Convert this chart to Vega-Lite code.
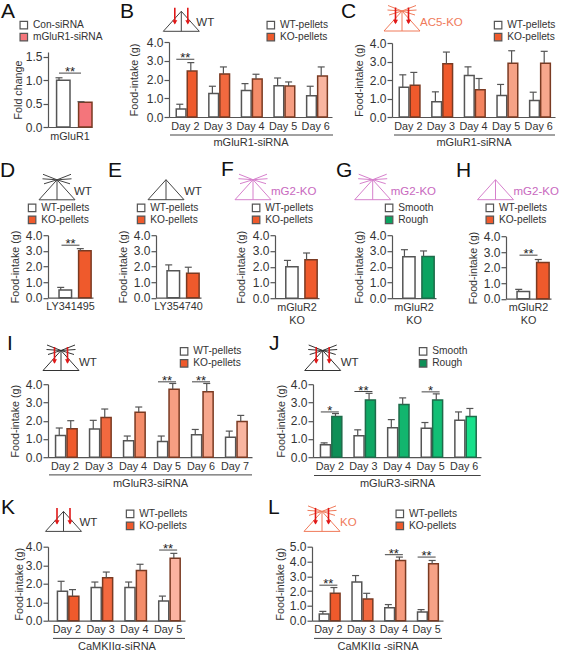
{"$schema":"https://vega.github.io/schema/vega-lite/v6.json","background":"white","padding":{"left":0,"top":0,"right":0,"bottom":0},
"config":{"font":"Liberation Sans","view":{"stroke":null},
"axis":{"grid":false,"domainColor":"#555","domainWidth":1.2,"tickColor":"#555","tickWidth":1.2,"labelColor":"#333","titleColor":"#333","titleFontWeight":"normal","labelFont":"Liberation Sans","titleFont":"Liberation Sans","labelOverlap":false,"labelFlush":false},
"axisX":{"ticks":false,"labelAngle":0,"labelPadding":3,"titlePadding":6,"labelFontSize":10.8,"titleFontSize":11,"labelLimit":0,"labelLineHeight":13},
"axisY":{"tickSize":5,"labelPadding":1,"labelFontSize":12,"titleFontSize":10.7},
"legend":{"title":null,"symbolType":"square","symbolSize":56,"symbolStrokeColor":"#555","symbolStrokeWidth":1.2,"labelFontSize":10.2,"labelColor":"#333","labelOffset":4,"rowPadding":-3.5,"padding":0},
"title":{"anchor":"start","frame":"group","offset":0,"baseline":"alphabetic","fontSize":21,"fontWeight":"normal","color":"#111"}},
"datasets":{"bars":[
{"p":"A","d":"mGluR1","s":"a","c":"Con-siRNA","v":1.0,"hi":1.05},{"p":"A","d":"mGluR1","s":"b","c":"mGluR1-siRNA","v":0.53,"hi":0.54,"sig":1.15,"star":"**"},
{"p":"B","d":"Day 2","s":"a","c":"WT-pellets","v":0.43,"hi":0.68},{"p":"B","d":"Day 2","s":"b","c":"KO-pellets","v":2.45,"hi":2.9,"sig":3.08,"star":"**"},
{"p":"B","d":"Day 3","s":"a","c":"WT-pellets","v":1.25,"hi":1.64},{"p":"B","d":"Day 3","s":"b","c":"k2","v":2.3,"hi":2.67},
{"p":"B","d":"Day 4","s":"a","c":"WT-pellets","v":1.42,"hi":1.78},{"p":"B","d":"Day 4","s":"b","c":"k3","v":2.03,"hi":2.28},
{"p":"B","d":"Day 5","s":"a","c":"WT-pellets","v":1.67,"hi":2.08},{"p":"B","d":"Day 5","s":"b","c":"k4","v":1.65,"hi":1.87},
{"p":"B","d":"Day 6","s":"a","c":"WT-pellets","v":1.14,"hi":1.64},{"p":"B","d":"Day 6","s":"b","c":"k6","v":2.19,"hi":2.67},
{"p":"C","d":"Day 2","s":"a","c":"WT-pellets","v":1.61,"hi":2.28},{"p":"C","d":"Day 2","s":"b","c":"KO-pellets","v":1.72,"hi":2.41},
{"p":"C","d":"Day 3","s":"a","c":"WT-pellets","v":0.83,"hi":1.36},{"p":"C","d":"Day 3","s":"b","c":"KO-pellets","v":2.88,"hi":3.51},
{"p":"C","d":"Day 4","s":"a","c":"WT-pellets","v":2.24,"hi":2.71},{"p":"C","d":"Day 4","s":"b","c":"k3","v":1.47,"hi":2.08},
{"p":"C","d":"Day 5","s":"a","c":"WT-pellets","v":1.16,"hi":1.76},{"p":"C","d":"Day 5","s":"b","c":"k4","v":2.9,"hi":3.58},
{"p":"C","d":"Day 6","s":"a","c":"WT-pellets","v":0.89,"hi":1.34},{"p":"C","d":"Day 6","s":"b","c":"k5","v":2.91,"hi":3.55},
{"p":"D","d":"LY341495","s":"a","c":"WT-pellets","v":0.49,"hi":0.66},{"p":"D","d":"LY341495","s":"b","c":"KO-pellets","v":3.0,"hi":3.14,"sig":3.36,"star":"**"},
{"p":"E","d":"LY354740","s":"a","c":"WT-pellets","v":1.73,"hi":2.1},{"p":"E","d":"LY354740","s":"b","c":"KO-pellets","v":1.56,"hi":1.95},
{"p":"F","d":"mGluR2 KO","s":"a","c":"WT-pellets","v":2.0,"hi":2.4},{"p":"F","d":"mGluR2 KO","s":"b","c":"KO-pellets","v":2.44,"hi":2.87},
{"p":"G","d":"mGluR2 KO","s":"a","c":"Smooth","v":2.63,"hi":3.08},{"p":"G","d":"mGluR2 KO","s":"c","c":"Rough","v":2.65,"hi":3.0},
{"p":"H","d":"mGluR2 KO","s":"a","c":"WT-pellets","v":0.47,"hi":0.6},{"p":"H","d":"mGluR2 KO","s":"b","c":"KO-pellets","v":2.32,"hi":2.52,"sig":2.8,"star":"**"},
{"p":"I","d":"Day 2","s":"a","c":"WT-pellets","v":1.19,"hi":1.6},{"p":"I","d":"Day 2","s":"b","c":"KO-pellets","v":1.56,"hi":2.0},
{"p":"I","d":"Day 3","s":"a","c":"WT-pellets","v":1.54,"hi":2.02},{"p":"I","d":"Day 3","s":"b","c":"k2","v":2.18,"hi":2.64},
{"p":"I","d":"Day 4","s":"a","c":"WT-pellets","v":0.9,"hi":1.16},{"p":"I","d":"Day 4","s":"b","c":"k3","v":2.46,"hi":2.75},
{"p":"I","d":"Day 5","s":"a","c":"WT-pellets","v":0.86,"hi":1.16},{"p":"I","d":"Day 5","s":"b","c":"k4","v":3.72,"hi":4.04,"sig":4.13,"star":"**"},
{"p":"I","d":"Day 6","s":"a","c":"WT-pellets","v":1.23,"hi":1.52},{"p":"I","d":"Day 6","s":"b","c":"k5","v":3.58,"hi":4.04,"sig":4.13,"star":"**"},
{"p":"I","d":"Day 7","s":"a","c":"WT-pellets","v":1.1,"hi":1.43},{"p":"I","d":"Day 7","s":"b","c":"k6","v":1.95,"hi":2.29},
{"p":"J","d":"Day 2","s":"a","c":"Smooth","v":0.68,"hi":0.79},{"p":"J","d":"Day 2","s":"c","c":"Rough","v":2.23,"hi":2.39,"sig":2.48,"star":"*"},
{"p":"J","d":"Day 3","s":"a","c":"Smooth","v":1.17,"hi":1.5},{"p":"J","d":"Day 3","s":"c","c":"g3","v":3.14,"hi":3.5,"sig":3.6,"star":"**"},
{"p":"J","d":"Day 4","s":"a","c":"Smooth","v":1.61,"hi":2.06},{"p":"J","d":"Day 4","s":"c","c":"g4","v":2.89,"hi":3.25},
{"p":"J","d":"Day 5","s":"a","c":"Smooth","v":1.59,"hi":1.9},{"p":"J","d":"Day 5","s":"c","c":"g5","v":3.14,"hi":3.47,"sig":3.58,"star":"*"},
{"p":"J","d":"Day 6","s":"a","c":"Smooth","v":2.03,"hi":2.48},{"p":"J","d":"Day 6","s":"c","c":"g6","v":2.23,"hi":2.67},
{"p":"K","d":"Day 2","s":"a","c":"WT-pellets","v":1.59,"hi":2.13},{"p":"K","d":"Day 2","s":"b","c":"KO-pellets","v":1.32,"hi":1.68},
{"p":"K","d":"Day 3","s":"a","c":"WT-pellets","v":1.8,"hi":2.09},{"p":"K","d":"Day 3","s":"b","c":"k2","v":2.32,"hi":2.63},
{"p":"K","d":"Day 4","s":"a","c":"WT-pellets","v":1.8,"hi":2.09},{"p":"K","d":"Day 4","s":"b","c":"k3","v":2.72,"hi":3.05},
{"p":"K","d":"Day 5","s":"a","c":"WT-pellets","v":1.06,"hi":1.33},{"p":"K","d":"Day 5","s":"b","c":"k6","v":3.37,"hi":3.64,"sig":3.82,"star":"**"},
{"p":"L","d":"Day 2","s":"a","c":"WT-pellets","v":0.45,"hi":0.63},{"p":"L","d":"Day 2","s":"b","c":"KO-pellets","v":1.85,"hi":2.24,"sig":2.4,"star":"**"},
{"p":"L","d":"Day 3","s":"a","c":"WT-pellets","v":2.62,"hi":3.05},{"p":"L","d":"Day 3","s":"b","c":"k2","v":1.47,"hi":1.85},
{"p":"L","d":"Day 4","s":"a","c":"WT-pellets","v":0.88,"hi":1.09},{"p":"L","d":"Day 4","s":"b","c":"k3","v":4.07,"hi":4.3,"sig":4.46,"star":"**"},
{"p":"L","d":"Day 5","s":"a","c":"WT-pellets","v":0.59,"hi":0.75},{"p":"L","d":"Day 5","s":"b","c":"k4","v":3.85,"hi":4.07,"sig":4.3,"star":"**"}
],
"sketch":[
{"k":"tri","x":-18,"y":0,"x2":18,"y2":0},{"k":"tri","x":-18,"y":0,"x2":0,"y2":-20},{"k":"tri","x":18,"y":0,"x2":0,"y2":-20},{"k":"tri","x":0,"y":0,"x2":0,"y2":-20},
{"k":"ray","x":0,"y":-20,"x2":-14,"y2":-25.5},{"k":"ray","x":0,"y":-20,"x2":-14.5,"y2":-21},{"k":"ray","x":0,"y":-20,"x2":-13,"y2":-16},{"k":"ray","x":0,"y":-20,"x2":14,"y2":-25.5},{"k":"ray","x":0,"y":-20,"x2":14.5,"y2":-21},{"k":"ray","x":0,"y":-20,"x2":13,"y2":-16},
{"k":"arrow","x":-6.5,"y":-23.5,"x2":-6.5,"y2":-8},{"k":"arrow","x":6.5,"y":-23.5,"x2":6.5,"y2":-8},
{"k":"head","x":-6.5,"y":-9},{"k":"head","x":6.5,"y":-9},
{"k":"text","t":"WT","x":15,"y":-5},{"k":"text","t":"AC5-KO","x":18,"y":-5},{"k":"text","t":"mG2-KO","x":18,"y":-5},{"k":"text","t":"KO","x":18,"y":-5},
{"k":"u","p":"B","x":-11.3,"x2":151.7,"y":103.7,"y2":103.7},{"k":"u","p":"C","x":-8,"x2":153,"y":104,"y2":104},{"k":"u","p":"I","x":-12,"x2":191,"y":104.4,"y2":104.4},{"k":"u","p":"J","x":-8.7,"x2":158,"y":105,"y2":105},{"k":"u","p":"K","x":-10.5,"x2":121.5,"y":107,"y2":107},{"k":"u","p":"L","x":-8,"x2":120,"y":107,"y2":107}
]},
"bounds":"flush","spacing":193.2,"resolve":{"scale":{"fill":"independent","xOffset":"independent"},"legend":{"fill":"independent"}},
"vconcat":[
{"bounds":"flush","spacing":77,"resolve":{"scale":{"fill":"independent","xOffset":"independent"},"legend":{"fill":"independent"}},"hconcat":[
{"width":44,"height":85,"title":{"text":"A","dx":-47,"dy":6},"data":{"name":"bars"},"transform":[{"filter":"datum.p=='A'"}],
"encoding":{"x":{"field":"d","type":"nominal","title":null,"scale":{"paddingInner":0,"paddingOuter":0}}},
"layer":[
{"mark":{"type":"bar","width":{"band":0.61},"strokeWidth":1.5},"encoding":{"xOffset":{"field":"s","scale":{"domain":["a","b"],"paddingInner":0,"paddingOuter":0}},"y":{"field":"v","type":"quantitative","scale":{"domain":[0,1.5],"range":[85,10]},"axis":{"tickCount":8,"values":[0,0.5,1,1.5],"format":".1f","title":"Fold change","titleX":-25}},"fill":{"field":"c","scale":{"domain":["Con-siRNA","mGluR1-siRNA"],"range":["#fff","#F4757B"]},"legend":{"orient":"none","legendX":-29.3,"legendY":-22,"values":["Con-siRNA","mGluR1-siRNA"]}},"stroke":{"field":"s","scale":{"domain":["a","b","c"],"range":["#555","#7A3A22","#1E6B4A"]},"legend":null}}},
{"mark":{"type":"rule","stroke":"#555","strokeWidth":1.2},"encoding":{"xOffset":{"field":"s"},"y":{"field":"v","type":"quantitative"},"y2":{"field":"hi"}}},
{"mark":{"type":"tick","size":7,"thickness":1.2,"color":"#555","opacity":1},"encoding":{"xOffset":{"field":"s"},"y":{"field":"hi","type":"quantitative"}}},
{"transform":[{"filter":"datum.sig"}],"mark":{"type":"tick","size":22,"thickness":1,"color":"#444","opacity":1},"encoding":{"y":{"field":"sig","type":"quantitative"}}},
{"transform":[{"filter":"datum.sig"}],"mark":{"type":"text","fontSize":13,"dy":-1,"baseline":"middle","color":"#222"},"encoding":{"y":{"field":"sig","type":"quantitative"},"text":{"field":"star"}}}
]},
{"bounds":"flush","spacing":60,"resolve":{"scale":{"fill":"independent","xOffset":"independent"},"legend":{"fill":"independent"}},"hconcat":[
{"width":163,"height":75,"title":{"text":"B","dx":-49,"dy":19},"resolve":{"scale":{"x":"independent","y":"independent"}},"layer":[
{"data":{"name":"bars"},"transform":[{"filter":"datum.p=='B'"}],"encoding":{"x":{"field":"d","type":"nominal","title":"mGluR1-siRNA","scale":{"paddingInner":0,"paddingOuter":0}}},"layer":[
{"mark":{"type":"bar","width":{"band":0.88},"strokeWidth":1.5},"encoding":{"xOffset":{"field":"s","scale":{"domain":["a","b"],"paddingInner":0,"paddingOuter":0.48}},"y":{"field":"v","type":"quantitative","scale":{"domain":[0,4],"range":[75,0]},"axis":{"tickCount":8,"values":[0,1,2,3,4],"format":".1f","title":"Food-intake (g)","titleX":-30}},"fill":{"field":"c","scale":{"domain":["WT-pellets","KO-pellets","k2","k3","k4","k5","k6"],"range":["#fff","#EF5A2C","#F2693F","#F48C69","#F69E82","#F7A78D","#F9B5A0"]},"legend":{"orient":"none","legendX":96.7,"legendY":-22,"values":["WT-pellets","KO-pellets"]}},"stroke":{"field":"s","scale":{"domain":["a","b","c"],"range":["#555","#7A3A22","#1E6B4A"]},"legend":null}}},
{"mark":{"type":"rule","stroke":"#555","strokeWidth":1.2},"encoding":{"xOffset":{"field":"s"},"y":{"field":"v","type":"quantitative"},"y2":{"field":"hi"}}},
{"mark":{"type":"tick","size":7,"thickness":1.2,"color":"#555","opacity":1},"encoding":{"xOffset":{"field":"s"},"y":{"field":"hi","type":"quantitative"}}},
{"transform":[{"filter":"datum.sig"}],"mark":{"type":"tick","size":18,"thickness":1,"color":"#444","opacity":1},"encoding":{"y":{"field":"sig","type":"quantitative"}}},
{"transform":[{"filter":"datum.sig"}],"mark":{"type":"text","fontSize":13,"dy":-1,"baseline":"middle","color":"#222"},"encoding":{"y":{"field":"sig","type":"quantitative"},"text":{"field":"star"}}}
]},
{"data":{"name":"sketch"},"encoding":{"x":{"field":"x","type":"quantitative","scale":{"domain":[0,100],"range":[12.3,112.3]},"axis":null},"y":{"field":"y","type":"quantitative","scale":{"domain":[0,100],"range":[-10.7,89.3]},"axis":null}},"layer":[
{"transform":[{"filter":"datum.k=='tri'"}],"mark":{"type":"rule","stroke":"#444","strokeWidth":1},"encoding":{"x2":{"field":"x2"},"y2":{"field":"y2"}}},
{"transform":[{"filter":"datum.k=='arrow'"}],"mark":{"type":"rule","stroke":"#E01818","strokeWidth":1.6},"encoding":{"x2":{"field":"x2"},"y2":{"field":"y2"}}},
{"transform":[{"filter":"datum.k=='head'"}],"mark":{"type":"point","shape":"triangle-down","size":25,"filled":true,"color":"#E01818","opacity":1}},
{"transform":[{"filter":"datum.t=='WT'"}],"mark":{"type":"text","fontSize":11.5,"align":"left","baseline":"alphabetic","color":"#333"},"encoding":{"text":{"field":"t"}}},
{"transform":[{"filter":"datum.k=='u'&&datum.p=='B'"}],"mark":{"type":"rule","stroke":"#444","strokeWidth":1},"encoding":{"x2":{"field":"x2"},"y2":{"field":"y2"}}}
]}
]},
{"width":163,"height":75,"title":{"text":"C","dx":-51,"dy":20.5},"resolve":{"scale":{"x":"independent","y":"independent"}},"layer":[
{"data":{"name":"bars"},"transform":[{"filter":"datum.p=='C'"}],"encoding":{"x":{"field":"d","type":"nominal","title":"mGluR1-siRNA","scale":{"paddingInner":0,"paddingOuter":0}}},"layer":[
{"mark":{"type":"bar","width":{"band":0.88},"strokeWidth":1.5},"encoding":{"xOffset":{"field":"s","scale":{"domain":["a","b"],"paddingInner":0,"paddingOuter":0.48}},"y":{"field":"v","type":"quantitative","scale":{"domain":[0,4],"range":[75,1]},"axis":{"tickCount":8,"values":[0,1,2,3,4],"format":".1f","title":"Food-intake (g)","titleX":-28}},"fill":{"field":"c","scale":{"domain":["WT-pellets","KO-pellets","k2","k3","k4","k5","k6"],"range":["#fff","#EF5A2C","#F2693F","#F4845F","#F6A286","#F7A78D","#F9B39C"]},"legend":{"orient":"none","legendX":101,"legendY":-22,"values":["WT-pellets","KO-pellets"]}},"stroke":{"field":"s","scale":{"domain":["a","b","c"],"range":["#555","#7A3A22","#1E6B4A"]},"legend":null}}},
{"mark":{"type":"rule","stroke":"#555","strokeWidth":1.2},"encoding":{"xOffset":{"field":"s"},"y":{"field":"v","type":"quantitative"},"y2":{"field":"hi"}}},
{"mark":{"type":"tick","size":7,"thickness":1.2,"color":"#555","opacity":1},"encoding":{"xOffset":{"field":"s"},"y":{"field":"hi","type":"quantitative"}}}
]},
{"data":{"name":"sketch"},"encoding":{"x":{"field":"x","type":"quantitative","scale":{"domain":[0,100],"range":[10,110]},"axis":null},"y":{"field":"y","type":"quantitative","scale":{"domain":[0,100],"range":[-11,89]},"axis":null}},"layer":[
{"transform":[{"filter":"datum.k=='tri'||datum.k=='ray'"}],"mark":{"type":"rule","stroke":"#F07A5A","strokeWidth":1},"encoding":{"x2":{"field":"x2"},"y2":{"field":"y2"}}},
{"transform":[{"filter":"datum.k=='arrow'"}],"mark":{"type":"rule","stroke":"#E01818","strokeWidth":1.6},"encoding":{"x2":{"field":"x2"},"y2":{"field":"y2"}}},
{"transform":[{"filter":"datum.k=='head'"}],"mark":{"type":"point","shape":"triangle-down","size":25,"filled":true,"color":"#E01818","opacity":1}},
{"transform":[{"filter":"datum.t=='AC5-KO'"}],"mark":{"type":"text","fontSize":11.5,"align":"left","baseline":"alphabetic","color":"#F07A5A"},"encoding":{"text":{"field":"t"}}},
{"transform":[{"filter":"datum.k=='u'&&datum.p=='C'"}],"mark":{"type":"rule","stroke":"#444","strokeWidth":1},"encoding":{"x2":{"field":"x2"},"y2":{"field":"y2"}}}
]}
]}
]}
]},
{"bounds":"flush","spacing":149,"resolve":{"scale":{"fill":"independent","xOffset":"independent"},"legend":{"fill":"independent"}},"vconcat":[
{"bounds":"flush","spacing":63,"resolve":{"scale":{"fill":"independent","xOffset":"independent"},"legend":{"fill":"independent"}},"hconcat":[
{"width":45,"height":62.5,"title":{"text":"D","dx":-48,"dy":11},"resolve":{"scale":{"x":"independent","y":"independent"}},"layer":[
{"data":{"name":"bars"},"transform":[{"filter":"datum.p=='D'"}],"encoding":{"x":{"field":"d","type":"nominal","title":null,"scale":{"paddingInner":0,"paddingOuter":0}}},"layer":[
{"mark":{"type":"bar","width":{"band":0.64},"strokeWidth":1.5},"encoding":{"xOffset":{"field":"s","scale":{"domain":["a","b"],"paddingInner":0,"paddingOuter":0.15}},"y":{"field":"v","type":"quantitative","scale":{"domain":[0,4],"range":[62.5,0]},"axis":{"tickCount":8,"values":[0,1,2,3,4],"format":".1f","title":"Food-intake (g)","titleX":-28}},"fill":{"field":"c","scale":{"domain":["WT-pellets","KO-pellets"],"range":["#fff","#EF5A2C"]},"legend":{"orient":"none","legendX":-21,"legendY":-32.5,"values":["WT-pellets","KO-pellets"]}},"stroke":{"field":"s","scale":{"domain":["a","b","c"],"range":["#555","#7A3A22","#1E6B4A"]},"legend":null}}},
{"mark":{"type":"rule","stroke":"#555","strokeWidth":1.2},"encoding":{"xOffset":{"field":"s"},"y":{"field":"v","type":"quantitative"},"y2":{"field":"hi"}}},
{"mark":{"type":"tick","size":7,"thickness":1.2,"color":"#555","opacity":1},"encoding":{"xOffset":{"field":"s"},"y":{"field":"hi","type":"quantitative"}}},
{"transform":[{"filter":"datum.sig"}],"mark":{"type":"tick","size":18,"thickness":1,"color":"#444","opacity":1},"encoding":{"y":{"field":"sig","type":"quantitative"}}},
{"transform":[{"filter":"datum.sig"}],"mark":{"type":"text","fontSize":13,"dy":-1,"baseline":"middle","color":"#222"},"encoding":{"y":{"field":"sig","type":"quantitative"},"text":{"field":"star"}}}
]},
{"data":{"name":"sketch"},"encoding":{"x":{"field":"x","type":"quantitative","scale":{"domain":[0,100],"range":[9,109]},"axis":null},"y":{"field":"y","type":"quantitative","scale":{"domain":[0,100],"range":[-35.4,64.6]},"axis":null}},"layer":[
{"transform":[{"filter":"datum.k=='tri'||datum.k=='ray'"}],"mark":{"type":"rule","stroke":"#444","strokeWidth":1},"encoding":{"x2":{"field":"x2"},"y2":{"field":"y2"}}},
{"transform":[{"filter":"datum.t=='WT'"}],"mark":{"type":"text","fontSize":11.5,"dx":2,"align":"left","baseline":"alphabetic","color":"#333"},"encoding":{"text":{"field":"t"}}}
]}
]},
{"bounds":"flush","spacing":74,"resolve":{"scale":{"fill":"independent","xOffset":"independent"},"legend":{"fill":"independent"}},"hconcat":[
{"width":45,"height":62.5,"title":{"text":"E","dx":-48,"dy":5.7},"resolve":{"scale":{"x":"independent","y":"independent"}},"layer":[
{"data":{"name":"bars"},"transform":[{"filter":"datum.p=='E'"}],"encoding":{"x":{"field":"d","type":"nominal","title":null,"scale":{"paddingInner":0,"paddingOuter":0}}},"layer":[
{"mark":{"type":"bar","width":{"band":0.64},"strokeWidth":1.5},"encoding":{"xOffset":{"field":"s","scale":{"domain":["a","b"],"paddingInner":0,"paddingOuter":0.15}},"y":{"field":"v","type":"quantitative","scale":{"domain":[0,4],"range":[62.5,0]},"axis":{"tickCount":8,"values":[0,1,2,3,4],"format":".1f","title":"Food-intake (g)","titleX":-28}},"fill":{"field":"c","scale":{"domain":["WT-pellets","KO-pellets"],"range":["#fff","#EF5A2C"]},"legend":{"orient":"none","legendX":-20,"legendY":-32.5,"values":["WT-pellets","KO-pellets"]}},"stroke":{"field":"s","scale":{"domain":["a","b","c"],"range":["#555","#7A3A22","#1E6B4A"]},"legend":null}}},
{"mark":{"type":"rule","stroke":"#555","strokeWidth":1.2},"encoding":{"xOffset":{"field":"s"},"y":{"field":"v","type":"quantitative"},"y2":{"field":"hi"}}},
{"mark":{"type":"tick","size":7,"thickness":1.2,"color":"#555","opacity":1},"encoding":{"xOffset":{"field":"s"},"y":{"field":"hi","type":"quantitative"}}}
]},
{"data":{"name":"sketch"},"encoding":{"x":{"field":"x","type":"quantitative","scale":{"domain":[0,100],"range":[10,110]},"axis":null},"y":{"field":"y","type":"quantitative","scale":{"domain":[0,100],"range":[-35.5,64.5]},"axis":null}},"layer":[
{"transform":[{"filter":"datum.k=='tri'"}],"mark":{"type":"rule","stroke":"#444","strokeWidth":1},"encoding":{"x2":{"field":"x2"},"y2":{"field":"y2"}}},
{"transform":[{"filter":"datum.t=='WT'"}],"mark":{"type":"text","fontSize":11.5,"dx":3,"align":"left","baseline":"alphabetic","color":"#333"},"encoding":{"text":{"field":"t"}}}
]}
]},
{"bounds":"flush","spacing":73,"resolve":{"scale":{"fill":"independent","xOffset":"independent"},"legend":{"fill":"independent"}},"hconcat":[
{"width":44,"height":63,"title":{"text":"F","dx":-54,"dy":10},"resolve":{"scale":{"x":"independent","y":"independent"}},"layer":[
{"data":{"name":"bars"},"transform":[{"filter":"datum.p=='F'"}],"encoding":{"x":{"field":"d","type":"nominal","title":null,"axis":{"labelExpr":"split(datum.label,' ')"},"scale":{"paddingInner":0,"paddingOuter":0}}},"layer":[
{"mark":{"type":"bar","width":{"band":0.64},"strokeWidth":1.5},"encoding":{"xOffset":{"field":"s","scale":{"domain":["a","b"],"paddingInner":0,"paddingOuter":0.15}},"y":{"field":"v","type":"quantitative","scale":{"domain":[0,4],"range":[63,0]},"axis":{"tickCount":8,"values":[0,1,2,3,4],"format":".1f","title":"Food-intake (g)","titleX":-29}},"fill":{"field":"c","scale":{"domain":["WT-pellets","KO-pellets"],"range":["#fff","#EF5A2C"]},"legend":{"orient":"none","legendX":-24,"legendY":-32.5,"values":["WT-pellets","KO-pellets"]}},"stroke":{"field":"s","scale":{"domain":["a","b","c"],"range":["#555","#7A3A22","#1E6B4A"]},"legend":null}}},
{"mark":{"type":"rule","stroke":"#555","strokeWidth":1.2},"encoding":{"xOffset":{"field":"s"},"y":{"field":"v","type":"quantitative"},"y2":{"field":"hi"}}},
{"mark":{"type":"tick","size":7,"thickness":1.2,"color":"#555","opacity":1},"encoding":{"xOffset":{"field":"s"},"y":{"field":"hi","type":"quantitative"}}}
]},
{"data":{"name":"sketch"},"encoding":{"x":{"field":"x","type":"quantitative","scale":{"domain":[0,100],"range":[-22,78]},"axis":null},"y":{"field":"y","type":"quantitative","scale":{"domain":[0,100],"range":[-35.5,64.5]},"axis":null}},"layer":[
{"transform":[{"filter":"datum.k=='tri'||datum.k=='ray'"}],"mark":{"type":"rule","stroke":"#D680CC","strokeWidth":1},"encoding":{"x2":{"field":"x2"},"y2":{"field":"y2"}}},
{"transform":[{"filter":"datum.t=='mG2-KO'"}],"mark":{"type":"text","fontSize":11.5,"align":"left","baseline":"alphabetic","color":"#C868BE"},"encoding":{"text":{"field":"t"}}}
]}
]},
{"bounds":"flush","spacing":70,"resolve":{"scale":{"fill":"independent","xOffset":"independent"},"legend":{"fill":"independent"}},"hconcat":[
{"width":44,"height":63,"title":{"text":"G","dx":-56,"dy":11},"resolve":{"scale":{"x":"independent","y":"independent"}},"layer":[
{"data":{"name":"bars"},"transform":[{"filter":"datum.p=='G'"}],"encoding":{"x":{"field":"d","type":"nominal","title":null,"axis":{"labelExpr":"split(datum.label,' ')"},"scale":{"paddingInner":0,"paddingOuter":0}}},"layer":[
{"mark":{"type":"bar","width":{"band":0.64},"strokeWidth":1.5},"encoding":{"xOffset":{"field":"s","scale":{"domain":["a","c"],"paddingInner":0,"paddingOuter":0.15}},"y":{"field":"v","type":"quantitative","scale":{"domain":[0,4],"range":[63,0]},"axis":{"tickCount":8,"values":[0,1,2,3,4],"format":".1f","title":"Food-intake (g)","titleX":-28}},"fill":{"field":"c","scale":{"domain":["Smooth","Rough"],"range":["#fff","#0BA360"]},"legend":{"orient":"none","legendX":-8,"legendY":-32.5,"values":["Smooth","Rough"]}},"stroke":{"field":"s","scale":{"domain":["a","b","c"],"range":["#555","#7A3A22","#1E6B4A"]},"legend":null}}},
{"mark":{"type":"rule","stroke":"#555","strokeWidth":1.2},"encoding":{"xOffset":{"field":"s"},"y":{"field":"v","type":"quantitative"},"y2":{"field":"hi"}}},
{"mark":{"type":"tick","size":7,"thickness":1.2,"color":"#555","opacity":1},"encoding":{"xOffset":{"field":"s"},"y":{"field":"hi","type":"quantitative"}}}
]},
{"data":{"name":"sketch"},"encoding":{"x":{"field":"x","type":"quantitative","scale":{"domain":[0,100],"range":[-19.3,80.7]},"axis":null},"y":{"field":"y","type":"quantitative","scale":{"domain":[0,100],"range":[-35.5,64.5]},"axis":null}},"layer":[
{"transform":[{"filter":"datum.k=='tri'||datum.k=='ray'"}],"mark":{"type":"rule","stroke":"#D680CC","strokeWidth":1},"encoding":{"x2":{"field":"x2"},"y2":{"field":"y2"}}},
{"transform":[{"filter":"datum.t=='mG2-KO'"}],"mark":{"type":"text","fontSize":11.5,"align":"left","baseline":"alphabetic","color":"#C868BE"},"encoding":{"text":{"field":"t"}}}
]}
]},
{"width":45,"height":63.5,"title":{"text":"H","dx":-50,"dy":5.7},"resolve":{"scale":{"x":"independent","y":"independent"}},"layer":[
{"data":{"name":"bars"},"transform":[{"filter":"datum.p=='H'"}],"encoding":{"x":{"field":"d","type":"nominal","title":null,"axis":{"labelExpr":"split(datum.label,' ')"},"scale":{"paddingInner":0,"paddingOuter":0}}},"layer":[
{"mark":{"type":"bar","width":{"band":0.64},"strokeWidth":1.5},"encoding":{"xOffset":{"field":"s","scale":{"domain":["a","b"],"paddingInner":0,"paddingOuter":0.15}},"y":{"field":"v","type":"quantitative","scale":{"domain":[0,4],"range":[63.5,1.3]},"axis":{"tickCount":8,"values":[0,1,2,3,4],"format":".1f","title":"Food-intake (g)","titleX":-28}},"fill":{"field":"c","scale":{"domain":["WT-pellets","KO-pellets"],"range":["#fff","#EF5A2C"]},"legend":{"orient":"none","legendX":-21.3,"legendY":-32.5,"values":["WT-pellets","KO-pellets"]}},"stroke":{"field":"s","scale":{"domain":["a","b","c"],"range":["#555","#7A3A22","#1E6B4A"]},"legend":null}}},
{"mark":{"type":"rule","stroke":"#555","strokeWidth":1.2},"encoding":{"xOffset":{"field":"s"},"y":{"field":"v","type":"quantitative"},"y2":{"field":"hi"}}},
{"mark":{"type":"tick","size":7,"thickness":1.2,"color":"#555","opacity":1},"encoding":{"xOffset":{"field":"s"},"y":{"field":"hi","type":"quantitative"}}},
{"transform":[{"filter":"datum.sig"}],"mark":{"type":"tick","size":18,"thickness":1,"color":"#444","opacity":1},"encoding":{"y":{"field":"sig","type":"quantitative"}}},
{"transform":[{"filter":"datum.sig"}],"mark":{"type":"text","fontSize":13,"dy":-1,"baseline":"middle","color":"#222"},"encoding":{"y":{"field":"sig","type":"quantitative"},"text":{"field":"star"}}}
]},
{"data":{"name":"sketch"},"encoding":{"x":{"field":"x","type":"quantitative","scale":{"domain":[0,100],"range":[-10.5,89.5]},"axis":null},"y":{"field":"y","type":"quantitative","scale":{"domain":[0,100],"range":[-35.5,64.5]},"axis":null}},"layer":[
{"transform":[{"filter":"datum.k=='tri'"}],"mark":{"type":"rule","stroke":"#D680CC","strokeWidth":1},"encoding":{"x2":{"field":"x2"},"y2":{"field":"y2"}}},
{"transform":[{"filter":"datum.t=='mG2-KO'"}],"mark":{"type":"text","fontSize":11.5,"align":"left","baseline":"alphabetic","color":"#C868BE"},"encoding":{"text":{"field":"t"}}}
]}
]}
]}
]}
]}
]},
{"bounds":"flush","spacing":162.5,"resolve":{"scale":{"fill":"independent","xOffset":"independent"},"legend":{"fill":"independent"}},"vconcat":[
{"bounds":"flush","spacing":61,"resolve":{"scale":{"fill":"independent","xOffset":"independent"},"legend":{"fill":"independent"}},"hconcat":[
{"width":204,"height":73,"title":{"text":"I","dx":-41,"dy":13},"resolve":{"scale":{"x":"independent","y":"independent"}},"layer":[
{"data":{"name":"bars"},"transform":[{"filter":"datum.p=='I'"}],"encoding":{"x":{"field":"d","type":"nominal","title":"mGluR3-siRNA","scale":{"paddingInner":0,"paddingOuter":0}}},"layer":[
{"mark":{"type":"bar","width":{"band":0.88},"strokeWidth":1.5},"encoding":{"xOffset":{"field":"s","scale":{"domain":["a","b"],"paddingInner":0,"paddingOuter":0.48}},"y":{"field":"v","type":"quantitative","scale":{"domain":[0,4],"range":[73,0]},"axis":{"tickCount":8,"values":[0,1,2,3,4],"format":".1f","title":"Food-intake (g)","titleX":-28}},"fill":{"field":"c","scale":{"domain":["WT-pellets","KO-pellets","k2","k3","k4","k5","k6"],"range":["#fff","#EF5A2C","#F2693F","#F48C69","#F69E82","#F7A78D","#F9B5A0"]},"legend":{"orient":"none","legendX":131,"legendY":-38,"values":["WT-pellets","KO-pellets"]}},"stroke":{"field":"s","scale":{"domain":["a","b","c"],"range":["#555","#7A3A22","#1E6B4A"]},"legend":null}}},
{"mark":{"type":"rule","stroke":"#555","strokeWidth":1.2},"encoding":{"xOffset":{"field":"s"},"y":{"field":"v","type":"quantitative"},"y2":{"field":"hi"}}},
{"mark":{"type":"tick","size":7,"thickness":1.2,"color":"#555","opacity":1},"encoding":{"xOffset":{"field":"s"},"y":{"field":"hi","type":"quantitative"}}},
{"transform":[{"filter":"datum.sig"}],"mark":{"type":"tick","size":18,"thickness":1,"color":"#444","opacity":1},"encoding":{"y":{"field":"sig","type":"quantitative"}}},
{"transform":[{"filter":"datum.sig"}],"mark":{"type":"text","fontSize":13,"dy":-1,"baseline":"middle","color":"#222"},"encoding":{"y":{"field":"sig","type":"quantitative"},"text":{"field":"star"}}}
]},
{"data":{"name":"sketch"},"encoding":{"x":{"field":"x","type":"quantitative","scale":{"domain":[0,100],"range":[13,113]},"axis":null},"y":{"field":"y","type":"quantitative","scale":{"domain":[0,100],"range":[-13.7,86.3]},"axis":null}},"layer":[
{"transform":[{"filter":"datum.k=='tri'||datum.k=='ray'"}],"mark":{"type":"rule","stroke":"#333","strokeWidth":1},"encoding":{"x2":{"field":"x2"},"y2":{"field":"y2"}}},
{"transform":[{"filter":"datum.k=='arrow'"}],"mark":{"type":"rule","stroke":"#E01818","strokeWidth":1.6},"encoding":{"x2":{"field":"x2"},"y2":{"field":"y2"}}},
{"transform":[{"filter":"datum.k=='head'"}],"mark":{"type":"point","shape":"triangle-down","size":25,"filled":true,"color":"#E01818","opacity":1}},
{"transform":[{"filter":"datum.t=='WT'"}],"mark":{"type":"text","fontSize":11.5,"dx":3,"align":"left","baseline":"alphabetic","color":"#333"},"encoding":{"text":{"field":"t"}}},
{"transform":[{"filter":"datum.k=='u'&&datum.p=='I'"}],"mark":{"type":"rule","stroke":"#444","strokeWidth":1},"encoding":{"x2":{"field":"x2"},"y2":{"field":"y2"}}}
]}
]},
{"width":168,"height":73,"title":{"text":"J","dx":-44,"dy":13},"resolve":{"scale":{"x":"independent","y":"independent"}},"layer":[
{"data":{"name":"bars"},"transform":[{"filter":"datum.p=='J'"}],"encoding":{"x":{"field":"d","type":"nominal","title":"mGluR3-siRNA","scale":{"paddingInner":0,"paddingOuter":0}}},"layer":[
{"mark":{"type":"bar","width":{"band":0.88},"strokeWidth":1.5},"encoding":{"xOffset":{"field":"s","scale":{"domain":["a","c"],"paddingInner":0,"paddingOuter":0.48}},"y":{"field":"v","type":"quantitative","scale":{"domain":[0,4],"range":[73,0]},"axis":{"tickCount":8,"values":[0,1,2,3,4],"format":".1f","title":"Food-intake (g)","titleX":-27}},"fill":{"field":"c","scale":{"domain":["Smooth","Rough","g3","g4","g5","g6"],"range":["#fff","#0E8F57","#0FA864","#12B56E","#12BF75","#17E08A"]},"legend":{"orient":"none","legendX":105,"legendY":-38,"values":["Smooth","Rough"]}},"stroke":{"field":"s","scale":{"domain":["a","b","c"],"range":["#555","#7A3A22","#1E6B4A"]},"legend":null}}},
{"mark":{"type":"rule","stroke":"#555","strokeWidth":1.2},"encoding":{"xOffset":{"field":"s"},"y":{"field":"v","type":"quantitative"},"y2":{"field":"hi"}}},
{"mark":{"type":"tick","size":7,"thickness":1.2,"color":"#555","opacity":1},"encoding":{"xOffset":{"field":"s"},"y":{"field":"hi","type":"quantitative"}}},
{"transform":[{"filter":"datum.sig"}],"mark":{"type":"tick","size":18,"thickness":1,"color":"#444","opacity":1},"encoding":{"y":{"field":"sig","type":"quantitative"}}},
{"transform":[{"filter":"datum.sig"}],"mark":{"type":"text","fontSize":13,"dy":-1,"baseline":"middle","color":"#222"},"encoding":{"y":{"field":"sig","type":"quantitative"},"text":{"field":"star"}}}
]},
{"data":{"name":"sketch"},"encoding":{"x":{"field":"x","type":"quantitative","scale":{"domain":[0,100],"range":[9.7,109.7]},"axis":null},"y":{"field":"y","type":"quantitative","scale":{"domain":[0,100],"range":[-13.7,86.3]},"axis":null}},"layer":[
{"transform":[{"filter":"datum.k=='tri'||datum.k=='ray'"}],"mark":{"type":"rule","stroke":"#333","strokeWidth":1},"encoding":{"x2":{"field":"x2"},"y2":{"field":"y2"}}},
{"transform":[{"filter":"datum.k=='arrow'"}],"mark":{"type":"rule","stroke":"#E01818","strokeWidth":1.6},"encoding":{"x2":{"field":"x2"},"y2":{"field":"y2"}}},
{"transform":[{"filter":"datum.k=='head'"}],"mark":{"type":"point","shape":"triangle-down","size":25,"filled":true,"color":"#E01818","opacity":1}},
{"transform":[{"filter":"datum.t=='WT'"}],"mark":{"type":"text","fontSize":11.5,"dx":3,"align":"left","baseline":"alphabetic","color":"#333"},"encoding":{"text":{"field":"t"}}},
{"transform":[{"filter":"datum.k=='u'&&datum.p=='J'"}],"mark":{"type":"rule","stroke":"#444","strokeWidth":1},"encoding":{"x2":{"field":"x2"},"y2":{"field":"y2"}}}
]}
]}
]},
{"bounds":"flush","spacing":127,"resolve":{"scale":{"fill":"independent","xOffset":"independent"},"legend":{"fill":"independent"}},"hconcat":[
{"width":137,"height":74,"title":{"text":"K","dx":-47,"dy":14.6},"resolve":{"scale":{"x":"independent","y":"independent"}},"layer":[
{"data":{"name":"bars"},"transform":[{"filter":"datum.p=='K'"}],"encoding":{"x":{"field":"d","type":"nominal","title":"CaMKIIα-siRNA","scale":{"paddingInner":0,"paddingOuter":0.0285,"align":1}}},"layer":[
{"mark":{"type":"bar","width":{"band":0.88},"strokeWidth":1.5},"encoding":{"xOffset":{"field":"s","scale":{"domain":["a","b"],"paddingInner":0,"paddingOuter":0.48}},"y":{"field":"v","type":"quantitative","scale":{"domain":[0,4],"range":[74,0]},"axis":{"tickCount":8,"values":[0,1,2,3,4],"format":".1f","title":"Food-intake (g)","titleX":-24}},"fill":{"field":"c","scale":{"domain":["WT-pellets","KO-pellets","k2","k3","k4","k5","k6"],"range":["#fff","#EF5A2C","#F2693F","#F48C69","#F69E82","#F7A78D","#FBB3A0"]},"legend":{"orient":"none","legendX":77,"legendY":-38,"values":["WT-pellets","KO-pellets"]}},"stroke":{"field":"s","scale":{"domain":["a","b","c"],"range":["#555","#7A3A22","#1E6B4A"]},"legend":null}}},
{"mark":{"type":"rule","stroke":"#555","strokeWidth":1.2},"encoding":{"xOffset":{"field":"s"},"y":{"field":"v","type":"quantitative"},"y2":{"field":"hi"}}},
{"mark":{"type":"tick","size":7,"thickness":1.2,"color":"#555","opacity":1},"encoding":{"xOffset":{"field":"s"},"y":{"field":"hi","type":"quantitative"}}},
{"transform":[{"filter":"datum.sig"}],"mark":{"type":"tick","size":18,"thickness":1,"color":"#444","opacity":1},"encoding":{"y":{"field":"sig","type":"quantitative"}}},
{"transform":[{"filter":"datum.sig"}],"mark":{"type":"text","fontSize":13,"dy":-1,"baseline":"middle","color":"#222"},"encoding":{"y":{"field":"sig","type":"quantitative"},"text":{"field":"star"}}}
]},
{"data":{"name":"sketch"},"encoding":{"x":{"field":"x","type":"quantitative","scale":{"domain":[0,100],"range":[15.5,115.5]},"axis":null},"y":{"field":"y","type":"quantitative","scale":{"domain":[0,100],"range":[-15.3,84.7]},"axis":null}},"layer":[
{"transform":[{"filter":"datum.k=='tri'"}],"mark":{"type":"rule","stroke":"#444","strokeWidth":1},"encoding":{"x2":{"field":"x2"},"y2":{"field":"y2"}}},
{"transform":[{"filter":"datum.k=='arrow'"}],"mark":{"type":"rule","stroke":"#E01818","strokeWidth":1.6},"encoding":{"x2":{"field":"x2"},"y2":{"field":"y2"}}},
{"transform":[{"filter":"datum.k=='head'"}],"mark":{"type":"point","shape":"triangle-down","size":25,"filled":true,"color":"#E01818","opacity":1}},
{"transform":[{"filter":"datum.t=='WT'"}],"mark":{"type":"text","fontSize":11.5,"dx":1,"align":"left","baseline":"alphabetic","color":"#333"},"encoding":{"text":{"field":"t"}}},
{"transform":[{"filter":"datum.k=='u'&&datum.p=='K'"}],"mark":{"type":"rule","stroke":"#444","strokeWidth":1},"encoding":{"x2":{"field":"x2"},"y2":{"field":"y2"}}}
]}
]},
{"width":131,"height":74,"title":{"text":"L","dx":-44,"dy":16.8},"resolve":{"scale":{"x":"independent","y":"independent"}},"layer":[
{"data":{"name":"bars"},"transform":[{"filter":"datum.p=='L'"}],"encoding":{"x":{"field":"d","type":"nominal","title":"CaMKIIα -siRNA","scale":{"paddingInner":0,"paddingOuter":0}}},"layer":[
{"mark":{"type":"bar","width":{"band":0.88},"strokeWidth":1.5},"encoding":{"xOffset":{"field":"s","scale":{"domain":["a","b"],"paddingInner":0,"paddingOuter":0.48}},"y":{"field":"v","type":"quantitative","scale":{"domain":[0,5],"range":[74,0]},"axis":{"tickCount":8,"values":[0,1,2,3,4,5],"format":".1f","title":"Food-intake (g)","titleX":-27}},"fill":{"field":"c","scale":{"domain":["WT-pellets","KO-pellets","k2","k3","k4","k5","k6"],"range":["#fff","#EF5A2C","#F2693F","#F69A7C","#F6A286","#F7A78D","#F9B5A0"]},"legend":{"orient":"none","legendX":82.7,"legendY":-38,"values":["WT-pellets","KO-pellets"]}},"stroke":{"field":"s","scale":{"domain":["a","b","c"],"range":["#555","#7A3A22","#1E6B4A"]},"legend":null}}},
{"mark":{"type":"rule","stroke":"#555","strokeWidth":1.2},"encoding":{"xOffset":{"field":"s"},"y":{"field":"v","type":"quantitative"},"y2":{"field":"hi"}}},
{"mark":{"type":"tick","size":7,"thickness":1.2,"color":"#555","opacity":1},"encoding":{"xOffset":{"field":"s"},"y":{"field":"hi","type":"quantitative"}}},
{"transform":[{"filter":"datum.sig"}],"mark":{"type":"tick","size":18,"thickness":1,"color":"#444","opacity":1},"encoding":{"y":{"field":"sig","type":"quantitative"}}},
{"transform":[{"filter":"datum.sig"}],"mark":{"type":"text","fontSize":13,"dy":-1,"baseline":"middle","color":"#222"},"encoding":{"y":{"field":"sig","type":"quantitative"},"text":{"field":"star"}}}
]},
{"data":{"name":"sketch"},"encoding":{"x":{"field":"x","type":"quantitative","scale":{"domain":[0,100],"range":[10,110]},"axis":null},"y":{"field":"y","type":"quantitative","scale":{"domain":[0,100],"range":[-15.3,84.7]},"axis":null}},"layer":[
{"transform":[{"filter":"datum.k=='tri'||datum.k=='ray'"}],"mark":{"type":"rule","stroke":"#F07A5A","strokeWidth":1},"encoding":{"x2":{"field":"x2"},"y2":{"field":"y2"}}},
{"transform":[{"filter":"datum.k=='arrow'"}],"mark":{"type":"rule","stroke":"#E01818","strokeWidth":1.6},"encoding":{"x2":{"field":"x2"},"y2":{"field":"y2"}}},
{"transform":[{"filter":"datum.k=='head'"}],"mark":{"type":"point","shape":"triangle-down","size":25,"filled":true,"color":"#E01818","opacity":1}},
{"transform":[{"filter":"datum.t=='KO'"}],"mark":{"type":"text","fontSize":11.5,"align":"left","baseline":"alphabetic","color":"#F07A5A"},"encoding":{"text":{"field":"t"}}},
{"transform":[{"filter":"datum.k=='u'&&datum.p=='L'"}],"mark":{"type":"rule","stroke":"#444","strokeWidth":1},"encoding":{"x2":{"field":"x2"},"y2":{"field":"y2"}}}
]}
]}
]}
]}
]}
]}
